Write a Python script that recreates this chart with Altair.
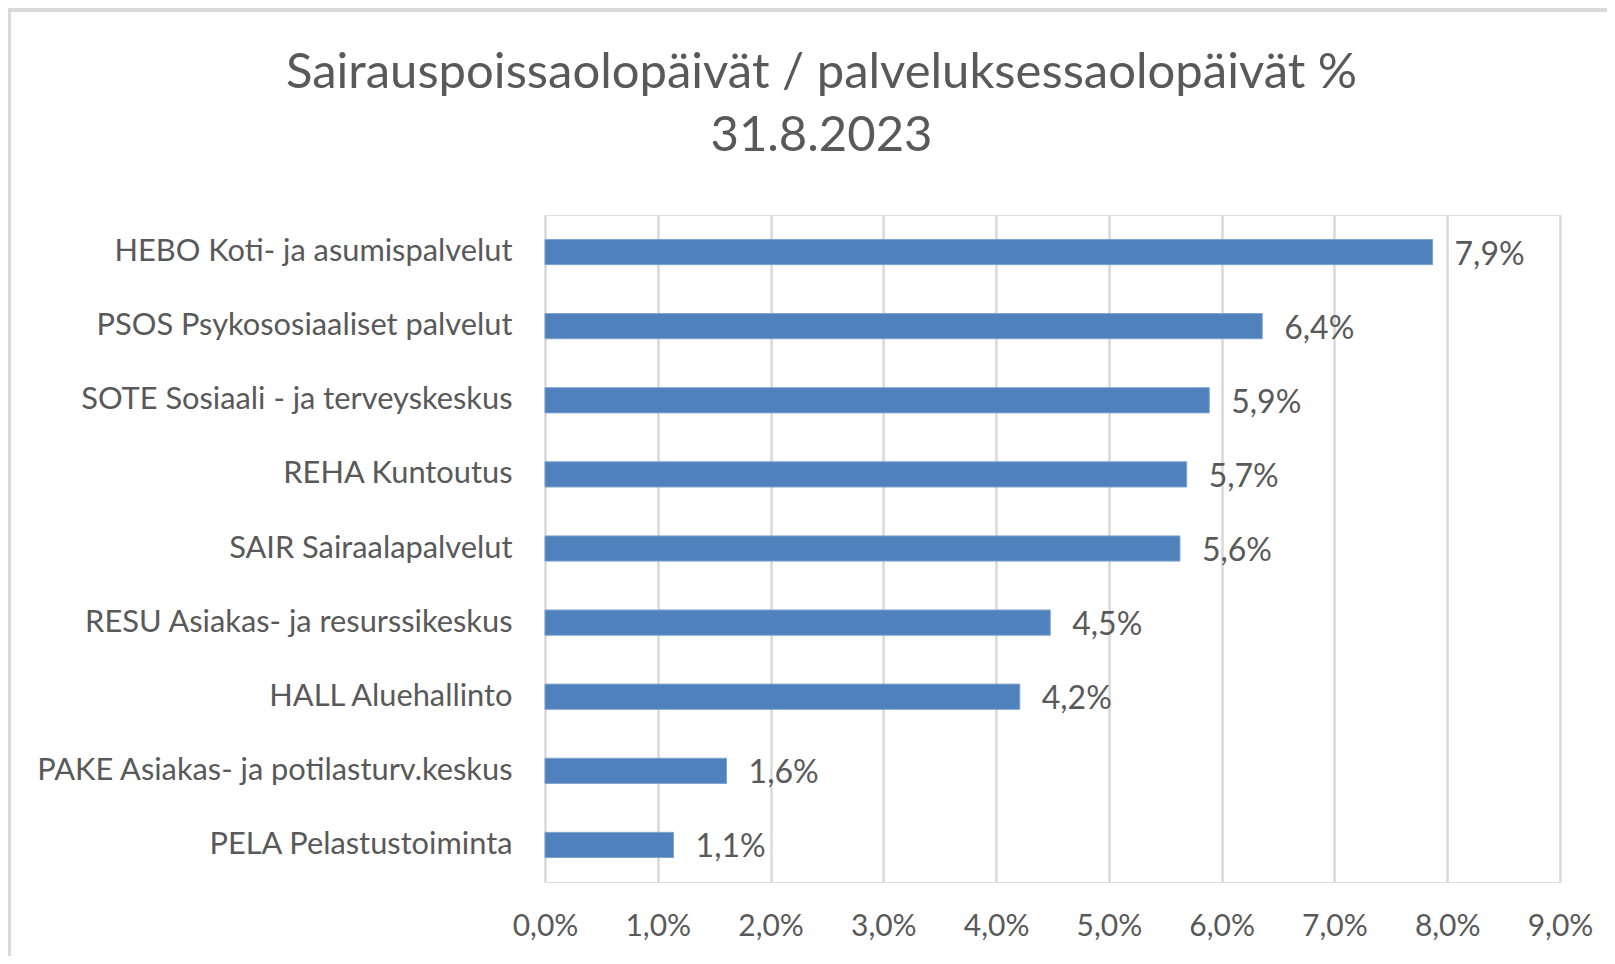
import altair as alt
import pandas as pd

categories = [
    "HEBO Koti- ja asumispalvelut",
    "PSOS Psykososiaaliset palvelut",
    "SOTE Sosiaali - ja terveyskeskus",
    "REHA Kuntoutus",
    "SAIR Sairaalapalvelut",
    "RESU Asiakas- ja resurssikeskus",
    "HALL Aluehallinto",
    "PAKE Asiakas- ja potilasturv.keskus",
    "PELA Pelastustoiminta",
]
values = [7.87, 6.36, 5.89, 5.69, 5.63, 4.48, 4.21, 1.61, 1.14]
x_ticks = [0, 1, 2, 3, 4, 5, 6, 7, 8, 9]
title_lines = ["Sairauspoissaolopäivät / palveluksessaolopäivät %", "31.8.2023"]

df = pd.DataFrame({"cat": categories, "val": values})

FONT = "Lato"
TXT = "#595959"
W, H = 1015, 667

y_enc = alt.Y(
    "cat:N",
    sort=categories,
    scale=alt.Scale(paddingInner=0.66, paddingOuter=0.33),
    axis=alt.Axis(
        title=None, ticks=False, domain=False, grid=False, labelPadding=33,
        labelFont=FONT, labelFontSize=30.8, labelColor=TXT, labelLimit=700,
    ),
)
x_enc = alt.X(
    "val:Q",
    scale=alt.Scale(domain=[0, 9], nice=False, zero=True),
    axis=alt.Axis(
        title=None, values=x_ticks, ticks=False, domain=False,
        grid=True, gridColor="#D9D9D9", gridWidth=2.5, labelFlush=False,
        labelPadding=29, labelFont=FONT, labelFontSize=30, labelColor=TXT,
        labelExpr="replace(format(datum.value, '.1f'), '.', ',') + '%'",
    ),
)

bars = alt.Chart(df).mark_bar(color="#4F81BD", stroke="#7FA3CF", strokeWidth=1).encode(
    x=x_enc, y=y_enc
)

labels = alt.Chart(df).transform_calculate(
    lbl="replace(format(datum.val, '.1f'), '.', ',') + '%'"
).mark_text(
    align="left", baseline="middle", dx=22, dy=2.5,
    font=FONT, fontSize=32, color=TXT,
).encode(x="val:Q", y=alt.Y("cat:N", sort=categories), text="lbl:N")

border_top = alt.Chart(df).mark_rule(color="#D9D9D9", strokeWidth=3).encode(
    x=alt.value(-537), x2=alt.value(1070), y=alt.value(-205)
)
border_left = alt.Chart(df).mark_rule(color="#D9D9D9", strokeWidth=3).encode(
    x=alt.value(-536), y=alt.value(-206), y2=alt.value(760)
)

chart = (
    alt.layer(bars, labels, border_top, border_left)
    .properties(
        width=W,
        height=H,
        autosize=alt.AutoSizeParams(type="none"),
        padding={"left": 537, "top": 207, "right": 47, "bottom": 74},
        title=alt.TitleParams(
            text=title_lines,
            anchor="middle",
            dx=-231,
            offset=-153,
            font=FONT,
            fontSize=49,
            fontWeight="normal",
            color=TXT,
            lineHeight=63,
        ),
    )
    .configure_view(strokeWidth=0, stroke="transparent")
    .configure(background="white")
)

chart.save("out.html", embed_options={"renderer": "svg", "actions": False})
